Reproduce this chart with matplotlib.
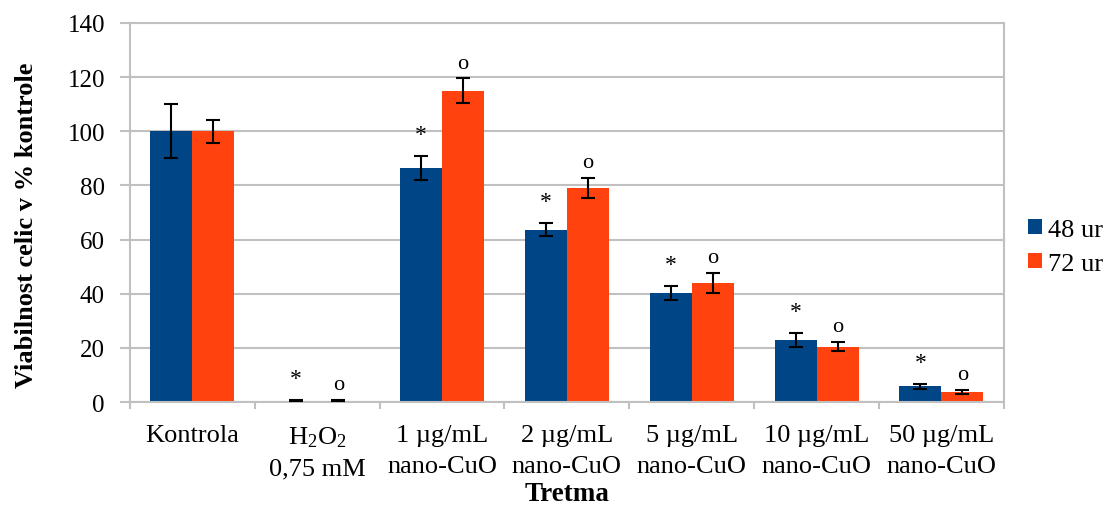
import numpy as np
import matplotlib.pyplot as plt

plt.rcParams['font.family'] = ['Liberation Serif', 'DejaVu Serif']
plt.rcParams['mathtext.fontset'] = 'custom'
plt.rcParams['mathtext.rm'] = 'Liberation Serif'
plt.rcParams['mathtext.it'] = 'Liberation Serif:italic'

categories = ['Kontrola', 'H$_2$O$_2$\n0,75 mM', '1 µg/mL\nnano-CuO', '2 µg/mL\nnano-CuO',
              '5 µg/mL\nnano-CuO', '10 µg/mL\nnano-CuO', '50 µg/mL\nnano-CuO']
v48 = [100, 0.5, 86.4, 63.6, 40.2, 23.0, 5.8]
e48 = [10, 0.3, 4.4, 2.4, 2.7, 2.6, 1.0]
v72 = [100, 0.5, 114.9, 79.0, 43.8, 20.4, 3.6]
e72 = [4.3, 0.3, 4.6, 3.8, 3.7, 1.6, 0.8]
marks48 = ['', '*', '*', '*', '*', '*', '*']
marks72 = ['', 'o', 'o', 'o', 'o', 'o', 'o']

blue = '#004586'
orange = '#ff420e'
grid = '#c0c0c0'

fig = plt.figure(figsize=(11.08, 5.10), dpi=100)
ax = fig.add_axes([0.1173, 0.2098, 0.906 - 0.1173, 0.953 - 0.2098])

x = np.arange(len(categories))
w = 0.336
ax.bar(x - w / 2, v48, w, color=blue, label='48 ur', zorder=2)
ax.bar(x + w / 2, v72, w, color=orange, label='72 ur', zorder=2)
ax.errorbar(x - w / 2, v48, yerr=e48, fmt='none', ecolor='black', elinewidth=1.5,
            capsize=5, capthick=1.5, zorder=3)
ax.errorbar(x + w / 2, v72, yerr=e72, fmt='none', ecolor='black', elinewidth=1.5,
            capsize=5, capthick=1.5, zorder=3)

# significance marks above the error bars
for i in range(len(categories)):
    if marks48[i]:
        ax.text(x[i] - w / 2, v48[i] + e48[i] + 4, marks48[i], ha='center', va='bottom',
                fontsize=17)
    if marks72[i]:
        ax.text(x[i] + w / 2, v72[i] + e72[i] + 2.2, marks72[i], ha='center', va='bottom',
                fontsize=16)

ax.set_xlim(-0.5, len(categories) - 0.5)
ax.set_ylim(0, 140)
ax.set_yticks(np.arange(0, 141, 20))
ax.yaxis.grid(True, color=grid, linewidth=1.5, zorder=0)
ax.set_axisbelow(True)

ax.set_xticks(x)
ax.set_xticklabels(categories, fontsize=19, linespacing=1.5)
ax.set_xticks(np.arange(-0.5, len(categories), 1), minor=True)
ax.tick_params(axis='x', which='major', length=0, pad=16)
ax.tick_params(axis='x', which='minor', length=5, width=1.5, color=grid)
ax.tick_params(axis='y', length=7, width=1.5, color=grid, labelsize=18, pad=11)

for s in ['left', 'bottom', 'right', 'top']:
    ax.spines[s].set_color(grid)
    ax.spines[s].set_linewidth(1.5)

ax.set_ylabel('Viabilnost celic v % kontrole', fontsize=19, fontweight='bold')
ax.yaxis.set_label_coords(-0.105, 0.47)
ax.set_xlabel('Tretma', fontsize=19.5, fontweight='bold', labelpad=1.5)

ax.legend(loc='center left', bbox_to_anchor=(1.028, 0.41), frameon=False, fontsize=19,
          borderpad=0, borderaxespad=0, handlelength=0.53, handleheight=0.53,
          handletextpad=0.2, labelspacing=0.45)

fig.savefig('out.png', dpi=100)
